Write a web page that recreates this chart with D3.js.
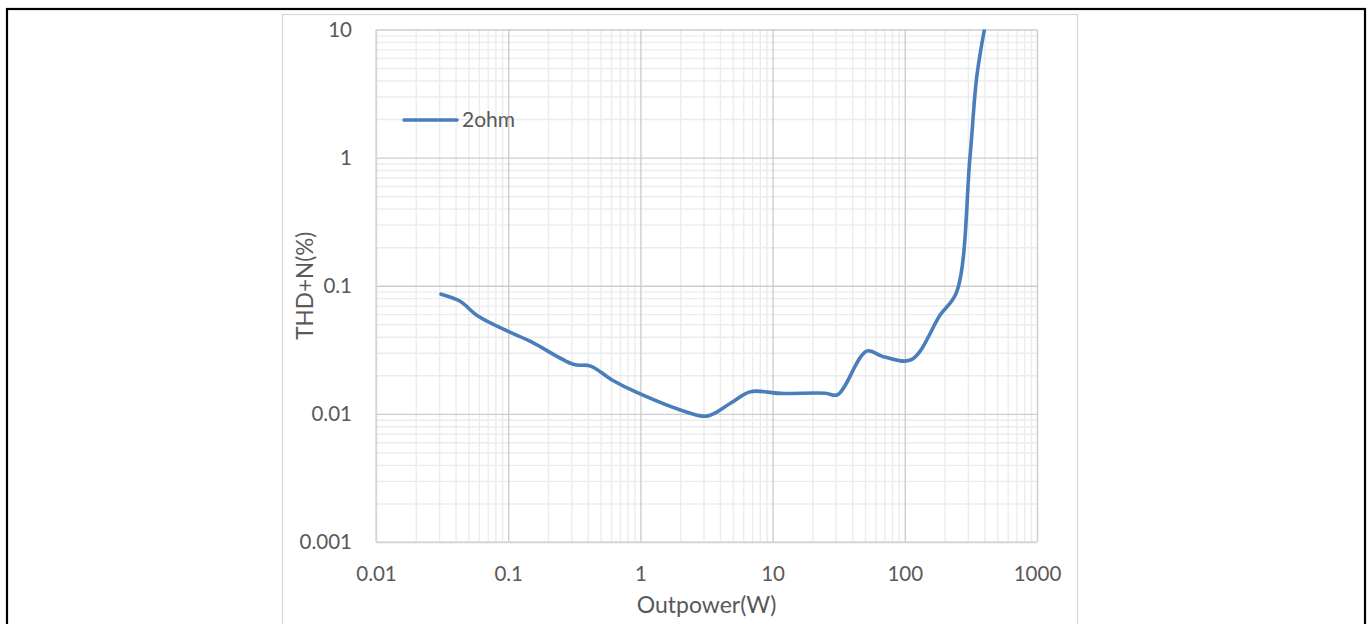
<!DOCTYPE html>
<html>
<head>
<meta charset="utf-8">
<script src="https://cdn.jsdelivr.net/npm/d3@7"></script>
<style>
  html, body { margin: 0; padding: 0; background: #fff; }
  svg { display: block; }
  text { font-family: Lato, "Open Sans", sans-serif; fill: #595959; }
</style>
</head>
<body>
<svg id="chart" width="1370" height="624"></svg>
<script>
// Output power (W) and THD+N (%) measured into a 2 ohm load
const powerW = [0.031, 0.043, 0.059, 0.1, 0.15, 0.31, 0.42, 0.61, 0.94, 2.2, 3.2, 4.8, 6.8, 11.4, 25, 31, 51.5, 69, 112, 185, 247, 311, 350, 400];
const thdPct = [0.086, 0.076, 0.058, 0.044, 0.0365, 0.0244, 0.0236, 0.0184, 0.0147, 0.0104, 0.0096, 0.0121, 0.0149, 0.01445, 0.0145, 0.0141, 0.0309, 0.0279, 0.0265, 0.059, 0.0896, 1.0, 4.26, 10];

const xTicks = [0.01, 0.1, 1, 10, 100, 1000];
const xTickLabels = ["0.01", "0.1", "1", "10", "100", "1000"];
const yTicks = [0.001, 0.01, 0.1, 1, 10];
const yTickLabels = ["0.001", "0.01", "0.1", "1", "10"];
const seriesName = "2ohm";
const xTitle = "Outpower(W)";
const yTitle = "THD+N(%)";

const svg = d3.select("#chart");

// outer frame and chart-area frame
svg.append("rect").attr("x", 7).attr("y", 9).attr("width", 1358).attr("height", 630)
  .attr("fill", "none").attr("stroke", "#000").attr("stroke-width", 2.2);
svg.append("rect").attr("x", 282.5).attr("y", 14.5).attr("width", 795).attr("height", 620)
  .attr("fill", "#fff").attr("stroke", "#d9d9d9").attr("stroke-width", 1.3);

const plot = { left: 376, right: 1037, top: 29.5, bottom: 542 };
const x = d3.scaleLog().domain([0.01, 1000]).range([plot.left, plot.right]);
const y = d3.scaleLog().domain([0.001, 10]).range([plot.bottom, plot.top]);

// minor values 2..9 within each decade
const minorOf = ticks => ticks.slice(0, -1).flatMap(t => d3.range(2, 10).map(m => m * t));
const xMinor = minorOf(xTicks);
const yMinor = minorOf(yTicks);

const h = plot.bottom - plot.top, w = plot.right - plot.left;

function styleGrid(g, color) {
  g.select(".domain").remove();
  g.selectAll(".tick line").attr("stroke", color).attr("stroke-width", 1.4);
}

// minor gridlines
svg.append("g").attr("transform", `translate(0,${plot.bottom})`)
  .call(d3.axisBottom(x).tickValues(xMinor).tickSize(-h).tickFormat(""))
  .call(g => styleGrid(g, "#ececec"));
svg.append("g").attr("transform", `translate(${plot.left},0)`)
  .call(d3.axisLeft(y).tickValues(yMinor).tickSize(-w).tickFormat(""))
  .call(g => styleGrid(g, "#ececec"));

// major gridlines with labels
const fmtX = d => xTickLabels[xTicks.indexOf(d)];
const fmtY = d => yTickLabels[yTicks.indexOf(d)];
svg.append("g").attr("transform", `translate(0,${plot.bottom})`)
  .call(d3.axisBottom(x).tickValues(xTicks).tickSize(-h).tickPadding(24).tickFormat(fmtX))
  .call(g => styleGrid(g, "#cdcdcd"))
  .call(g => g.selectAll(".tick text").attr("font-size", 20.5).attr("fill", "#595959")
    .attr("font-family", "Lato, 'Open Sans', sans-serif"));
svg.append("g").attr("transform", `translate(${plot.left},0)`)
  .call(d3.axisLeft(y).tickValues(yTicks).tickSize(-w).tickPadding(24).tickFormat(fmtY))
  .call(g => styleGrid(g, "#cdcdcd"))
  .call(g => g.selectAll(".tick text").attr("font-size", 20.5).attr("fill", "#595959")
    .attr("font-family", "Lato, 'Open Sans', sans-serif"));

// left and bottom plot edges
svg.append("line").attr("x1", plot.left).attr("x2", plot.left).attr("y1", plot.top).attr("y2", plot.bottom)
  .attr("stroke", "#d9d9d9").attr("stroke-width", 1.4);
svg.append("line").attr("x1", plot.left).attr("x2", plot.right).attr("y1", plot.bottom).attr("y2", plot.bottom)
  .attr("stroke", "#d9d9d9").attr("stroke-width", 1.4);

// axis titles
svg.append("text").attr("x", (plot.left + plot.right) / 2).attr("y", 613)
  .attr("text-anchor", "middle").attr("font-size", 23).text(xTitle);
svg.append("text").attr("transform", `translate(313,${(plot.top + plot.bottom) / 2}) rotate(-90)`)
  .attr("text-anchor", "middle").attr("font-size", 22.5).text(yTitle);

// series line, clipped to the plot area
svg.append("clipPath").attr("id", "plotClip").append("rect")
  .attr("x", plot.left).attr("y", plot.top).attr("width", w).attr("height", h);

const data = powerW.map((p, i) => ({ p, t: thdPct[i] }));
const line = d3.line().x(d => x(d.p)).y(d => y(d.t)).curve(d3.curveCatmullRom.alpha(0.5));
svg.append("path").datum(data).attr("clip-path", "url(#plotClip)")
  .attr("d", line).attr("fill", "none").attr("stroke", "#4a7ebb")
  .attr("stroke-width", 3.6).attr("stroke-linecap", "round").attr("stroke-linejoin", "round");

// legend
svg.append("line").attr("x1", 404).attr("x2", 457).attr("y1", 120).attr("y2", 120)
  .attr("stroke", "#4a7ebb").attr("stroke-width", 3.6).attr("stroke-linecap", "round");
svg.append("text").attr("x", 462).attr("y", 120).attr("dy", "0.35em")
  .attr("font-size", 21).text(seriesName);
</script>
</body>
</html>
